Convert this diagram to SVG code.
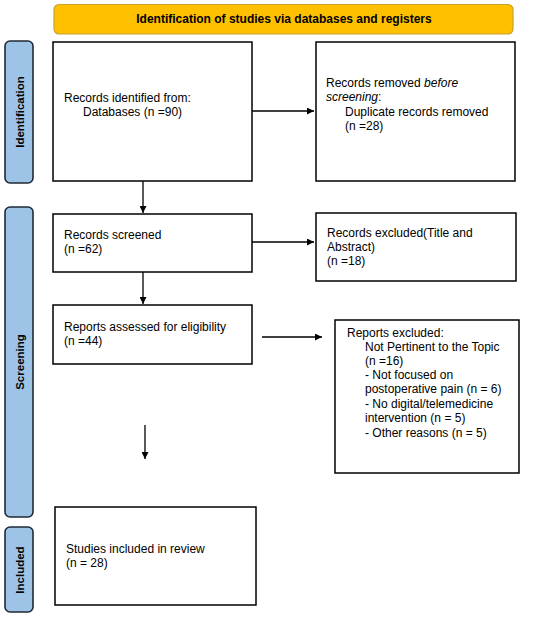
<svg xmlns="http://www.w3.org/2000/svg" width="550" height="618" viewBox="0 0 550 618">
<defs>
<style>
.box{fill:#fff;stroke:#000;stroke-width:1.5}
.side{fill:#9DC3E6;stroke:#1F2A36;stroke-width:1.6}
.t{font-family:"Liberation Sans",Arial,sans-serif;font-size:12px;fill:#000}
.b{font-family:"Liberation Sans",Arial,sans-serif;font-size:12px;font-weight:bold;fill:#000}
.s{font-family:"Liberation Sans",Arial,sans-serif;font-size:11.5px;font-weight:bold;fill:#000}
.c{stroke:#000;stroke-width:1.3;fill:none;marker-end:url(#ah)}
</style>
<marker id="ah" viewBox="0 0 10 10" refX="10" refY="5" markerWidth="7" markerHeight="7" markerUnits="userSpaceOnUse" orient="auto">
<path d="M0,0 L10,5 L0,10 z" fill="#000"/>
</marker>
</defs>
<rect width="550" height="618" fill="#fff"/>
<g id="title">
<rect x="54" y="4.5" width="459" height="29.5" rx="5" fill="#FFC000" stroke="#C9A227" stroke-width="1.2"/>
<text class="b" x="284" y="23" text-anchor="middle">Identification of studies via databases and registers</text>
</g>
<g id="lbl-identification">
<rect class="side" x="5" y="41" width="28" height="142" rx="5"/>
<text class="s" transform="translate(23.5,112) rotate(-90)" text-anchor="middle">Identification</text>
</g>
<g id="lbl-screening">
<rect class="side" x="5" y="207" width="28" height="310" rx="5"/>
<text class="s" transform="translate(23.5,362) rotate(-90)" text-anchor="middle">Screening</text>
</g>
<g id="lbl-included">
<rect class="side" x="5" y="527" width="28" height="85" rx="5"/>
<text class="s" transform="translate(23.5,570) rotate(-90)" text-anchor="middle">Included</text>
</g>
<g id="n-identified">
<rect class="box" x="53" y="42" width="199" height="139"/>
<text class="t" x="64" y="102">Records identified from:</text>
<text class="t" x="83" y="116">Databases (n =90)</text>
</g>
<g id="n-removed">
<rect class="box" x="316" y="42" width="199" height="139"/>
<text class="t" x="326" y="87">Records removed <tspan font-style="italic">before</tspan></text>
<text class="t" x="326" y="101"><tspan font-style="italic">screening</tspan>:</text>
<text class="t" x="345" y="116">Duplicate records removed</text>
<text class="t" x="345" y="130">(n =28)</text>
</g>
<g id="n-screened">
<rect class="box" x="53" y="214" width="199" height="58"/>
<text class="t" x="64" y="239">Records screened</text>
<text class="t" x="64" y="253">(n =62)</text>
</g>
<g id="n-excluded">
<rect class="box" x="316" y="213" width="200" height="68"/>
<text class="t" x="327" y="237">Records excluded(Title and</text>
<text class="t" x="327" y="251">Abstract)</text>
<text class="t" x="327" y="265">(n =18)</text>
</g>
<g id="n-assessed">
<rect class="box" x="53" y="305" width="199" height="59"/>
<text class="t" x="64" y="331">Reports assessed for eligibility</text>
<text class="t" x="64" y="345">(n =44)</text>
</g>
<g id="n-reports-excluded">
<rect class="box" x="335" y="320" width="184" height="153"/>
<text class="t" x="347" y="337">Reports excluded:</text>
<text class="t" x="365" y="351">Not Pertinent to the Topic</text>
<text class="t" x="365" y="365">(n =16)</text>
<text class="t" x="365" y="379">- Not focused on</text>
<text class="t" x="365" y="393">postoperative pain (n = 6)</text>
<text class="t" x="365" y="408">- No digital/telemedicine</text>
<text class="t" x="365" y="422">intervention (n = 5)</text>
<text class="t" x="365" y="437">- Other reasons (n = 5)</text>
</g>
<g id="n-included">
<rect class="box" x="55" y="507" width="201" height="98"/>
<text class="t" x="66" y="553">Studies included in review</text>
<text class="t" x="66" y="567">(n = 28)</text>
</g>
<g id="connectors">
<line class="c" x1="252" y1="111" x2="314" y2="111"/>
<line class="c" x1="143" y1="181" x2="143" y2="213"/>
<line class="c" x1="252" y1="242" x2="314" y2="242"/>
<line class="c" x1="143" y1="272" x2="143" y2="304"/>
<line class="c" x1="262" y1="337" x2="322" y2="337"/>
<line class="c" x1="145" y1="425" x2="145" y2="459"/>
</g>
</svg>
